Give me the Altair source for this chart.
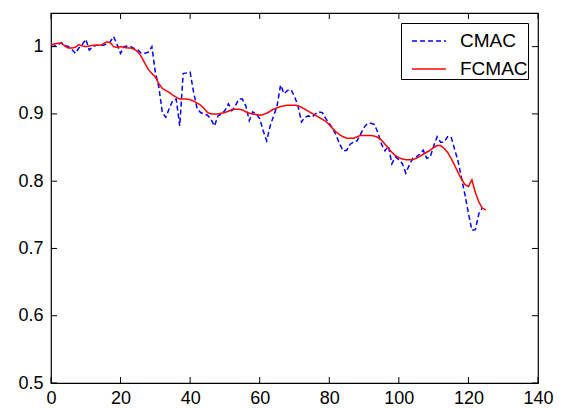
import altair as alt
import pandas as pd

x_cmac = list(range(0, 125))
cmac = [1.000, 1.001, 1.003, 1.006, 1.002, 1.000, 0.996, 0.990, 0.998, 1.003,
        1.011, 0.995, 1.000, 1.002, 1.002, 1.002, 1.004, 1.007, 1.015, 1.003,
        0.990, 1.000, 1.001, 1.000, 0.997, 0.995, 0.990, 0.990, 0.992, 1.000,
        0.962, 0.940, 0.902, 0.895, 0.908, 0.920, 0.922, 0.882, 0.960, 0.961,
        0.962, 0.932, 0.908, 0.902, 0.900, 0.898, 0.892, 0.882, 0.897, 0.900,
        0.905, 0.915, 0.905, 0.912, 0.922, 0.922, 0.912, 0.890, 0.903, 0.900,
        0.893, 0.875, 0.860, 0.882, 0.897, 0.912, 0.943, 0.930, 0.935, 0.936,
        0.926, 0.912, 0.888, 0.895, 0.897, 0.895, 0.900, 0.903, 0.902, 0.893,
        0.886, 0.878, 0.868, 0.855, 0.845, 0.846, 0.855, 0.858, 0.860, 0.870,
        0.880, 0.886, 0.886, 0.884, 0.872, 0.855, 0.845, 0.852, 0.826, 0.836,
        0.832, 0.826, 0.812, 0.824, 0.834, 0.836, 0.840, 0.846, 0.834, 0.836,
        0.852, 0.866, 0.858, 0.858, 0.866, 0.866, 0.848, 0.830, 0.805, 0.780,
        0.752, 0.727, 0.728, 0.752, 0.760]

x_fcmac = list(range(0, 126))
fcmac = [1.003, 1.004, 1.005, 1.005, 1.001, 0.998, 0.998, 0.999, 1.003, 1.001,
         1.000, 1.001, 1.002, 1.002, 1.002, 1.004, 1.007, 1.006, 1.000, 0.999,
         1.000, 0.999, 0.998, 0.998, 0.996, 0.992, 0.985, 0.975, 0.966, 0.960,
         0.955, 0.945, 0.938, 0.935, 0.932, 0.928, 0.925, 0.922, 0.922, 0.922,
         0.921, 0.919, 0.916, 0.913, 0.908, 0.902, 0.900, 0.900, 0.900, 0.901,
         0.902, 0.904, 0.906, 0.907, 0.907, 0.906, 0.903, 0.901, 0.900, 0.899,
         0.898, 0.899, 0.901, 0.904, 0.907, 0.909, 0.911, 0.912, 0.913, 0.913,
         0.913, 0.912, 0.910, 0.907, 0.904, 0.901, 0.898, 0.895, 0.892, 0.889,
         0.884, 0.878, 0.873, 0.869, 0.866, 0.864, 0.864, 0.864, 0.866, 0.868,
         0.868, 0.868, 0.868, 0.867, 0.865, 0.861, 0.855, 0.849, 0.843, 0.838,
         0.835, 0.833, 0.832, 0.832, 0.832, 0.834, 0.837, 0.840, 0.843, 0.846,
         0.850, 0.853, 0.853, 0.849, 0.843, 0.834, 0.824, 0.813, 0.803, 0.795,
         0.792, 0.802, 0.783, 0.769, 0.760, 0.757]

series_names = ["CMAC", "FCMAC"]

x_ticks = [0, 20, 40, 60, 80, 100, 120, 140]
y_ticks = [0.5, 0.6, 0.7, 0.8, 0.9, 1.0]

W, H = 487, 370
FONT = "Liberation Sans"

df = pd.concat([
    pd.DataFrame({"x": x_cmac, "y": cmac, "series": series_names[0]}),
    pd.DataFrame({"x": x_fcmac, "y": fcmac, "series": series_names[1]}),
])
dfx = pd.DataFrame({"x": x_ticks})
dfy = pd.DataFrame({"y": y_ticks})

X = alt.X("x:Q", title=None,
          scale=alt.Scale(domain=[0, 140], nice=False, zero=False),
          axis=alt.Axis(values=x_ticks, grid=False, domain=False, ticks=False,
                        labelFontSize=18, labelFont=FONT, labelColor="black",
                        labelPadding=6, labelFlush=False, format="d"))
Y = alt.Y("y:Q", title=None,
          scale=alt.Scale(domain=[0.5, 1.05], nice=False, zero=False),
          axis=alt.Axis(values=y_ticks, grid=False, domain=False, ticks=False,
                        labelFontSize=18, labelFont=FONT, labelColor="black",
                        labelPadding=8, format="~g"))

lines = alt.Chart(df).mark_line(strokeWidth=1.5).encode(
    x=X, y=Y,
    color=alt.Color("series:N", title=None,
                    scale=alt.Scale(domain=series_names, range=["#0000ff", "#ff0000"])),
    strokeDash=alt.StrokeDash("series:N", title=None,
                              scale=alt.Scale(domain=series_names, range=[[5, 3], [1, 0]])),
    order=alt.Order("x:Q"),
)

tick_style = dict(color="black", strokeWidth=1)
bottom = alt.Chart(dfx).mark_rule(**tick_style).encode(x=X, y=alt.value(H), y2=alt.value(H - 6))
top = alt.Chart(dfx).mark_rule(**tick_style).encode(x=X, y=alt.value(0), y2=alt.value(6))
left = alt.Chart(dfy).mark_rule(**tick_style).encode(y=Y, x=alt.value(0), x2=alt.value(6))
right = alt.Chart(dfy).mark_rule(**tick_style).encode(y=Y, x=alt.value(W - 6), x2=alt.value(W))

chart = alt.layer(lines, bottom, top, left, right).properties(
    width=W, height=H,
    autosize=alt.AutoSizeParams(type="none"),
    padding={"left": 43, "top": 5, "right": 16, "bottom": 24},
    background="white",
).configure_view(
    stroke="black", strokeWidth=1.2
).configure_legend(
    orient="top-right", offset=10, strokeColor="black", fillColor="white",
    padding=0, labelFontSize=19, labelFont=FONT, labelColor="black",
    symbolType="stroke", symbolSize=1150, symbolStrokeWidth=1.5,
    symbolOffset=10, rowPadding=-8, labelOffset=13,
)

chart.save("out.html", embed_options={"renderer": "svg", "actions": False})
